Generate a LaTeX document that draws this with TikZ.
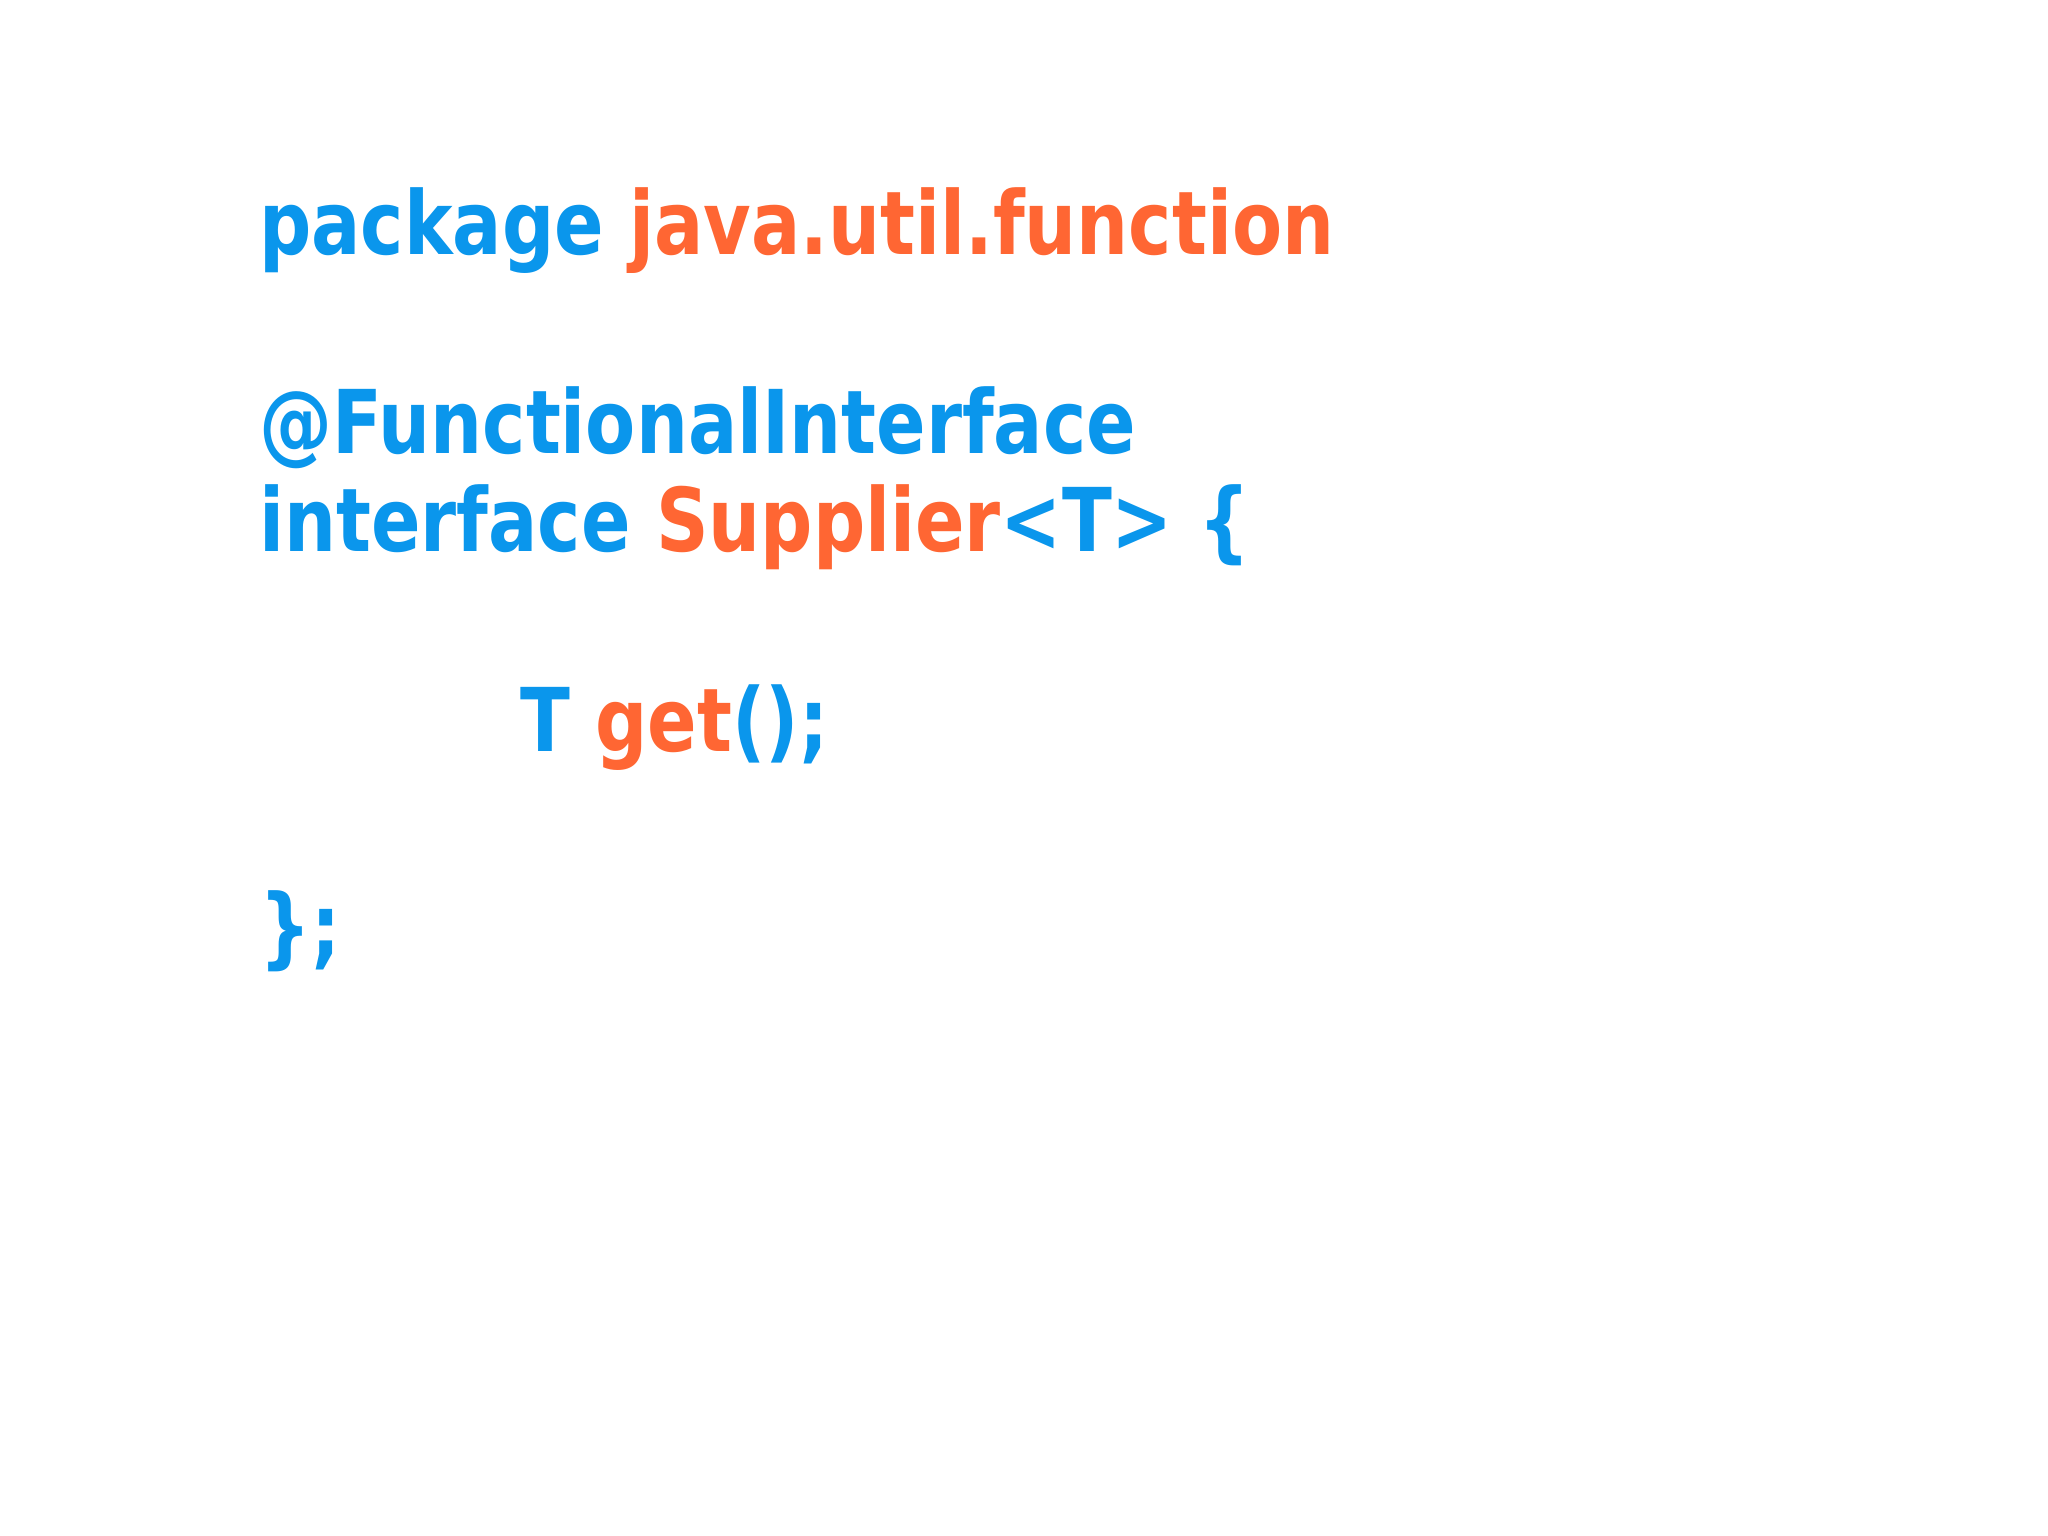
\documentclass[tikz,border=0pt]{standalone}
\usepackage{fontspec}
\setmainfont{DejaVu Sans}
\definecolor{kb}{HTML}{0A96EC}
\definecolor{ko}{HTML}{FF6633}
\begin{document}
\begin{tikzpicture}[x=0.5pt,y=-0.5pt,
  code/.style={anchor=base west,inner sep=0,xscale=0.83,font=\fontsize{44}{50}\selectfont\bfseries}]
\useasboundingbox (0,0) rectangle (2048,1535);
\node[code] (l1) at (259,255) {\color{kb}package \color{ko}java.util.function};
\node[code] (l2) at (259,453) {\color{kb}@FunctionalInterface};
\node[code] (l3) at (259,551) {\color{kb}interface \color{ko}Supplier\color{kb}<T> \{};
\node[code] (l4) at (520,751) {\color{kb}T \color{ko}get\color{kb}();};
\node[code] (l5) at (259,957) {\color{kb}\};};
\end{tikzpicture}
\end{document}
